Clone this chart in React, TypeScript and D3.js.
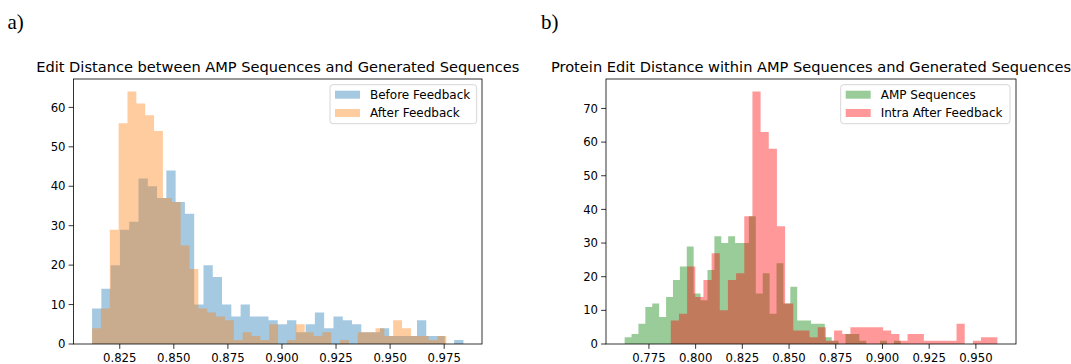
import React from "react";
import * as d3 from "d3";

// ---- data: histogram counts (40 bins each) ----
const beforeFeedback = [9, 14, 20, 29, 31, 42, 40, 37, 44, 36, 33, 10, 20, 17, 10, 7, 10, 7, 7, 6, 5, 6, 3, 5, 8, 4, 7, 6, 5, 3, 3, 4, 2, 2, 2, 6, 2, 2, 0, 1];
const afterFeedback = [4, 9, 29, 56, 64, 61, 58, 54, 37, 36, 25, 19, 9, 8, 7, 6, 1, 3, 2, 1, 5, 0, 1, 5, 3, 2, 3, 0, 1, 0, 3, 3, 4, 2, 6, 4, 2, 2, 1, 2];
const ampSequences = [2, 3, 6, 11, 12, 8, 14, 19, 23, 29, 15, 13, 22, 32, 30, 32, 30, 30, 38, 15, 21, 9, 24, 12, 17, 7, 7, 6, 6, 2, 1, 0, 3, 3, 1, 0, 0, 1, 0, 1];
const intraAfterFeedback = [7, 9, 23, 14, 19, 27, 10, 19, 21, 38, 75, 63, 58, 35, 12, 4, 4, 2, 5, 1, 4, 3, 5, 5, 5, 5, 4, 3, 1, 3, 3, 1, 1, 1, 1, 6, 0, 1, 2, 2];

// bin ranges [min, max] of each series
const beforeRange = [0.8122, 0.9839];
const afterRange = [0.8122, 0.976];
const ampRange = [0.762, 0.9098];
const intraRange = [0.7867, 0.9615];

const leftXTicks = [0.825, 0.85, 0.875, 0.9, 0.925, 0.95, 0.975];
const leftYTicks = [0, 10, 20, 30, 40, 50, 60];
const rightXTicks = [0.775, 0.8, 0.825, 0.85, 0.875, 0.9, 0.925, 0.95];
const rightYTicks = [0, 10, 20, 30, 40, 50, 60, 70];

const leftTitle = "Edit Distance between AMP Sequences and Generated Sequences";
const rightTitle = "Protein Edit Distance within AMP Sequences and Generated Sequences";

type Series = { name: string; counts: number[]; range: number[]; color: string };

const leftSeries: Series[] = [
  { name: "Before Feedback", counts: beforeFeedback, range: beforeRange, color: "#1f77b4" },
  { name: "After Feedback", counts: afterFeedback, range: afterRange, color: "#ff7f0e" },
];
const rightSeries: Series[] = [
  { name: "AMP Sequences", counts: ampSequences, range: ampRange, color: "#008000" },
  { name: "Intra After Feedback", counts: intraAfterFeedback, range: intraRange, color: "#ff0000" },
];

const FONT = "DejaVu Sans, sans-serif";

type PanelProps = {
  left: number;
  right: number;
  top: number;
  bottom: number;
  series: Series[];
  xTicks: number[];
  yTicks: number[];
  title: string;
  legend: { x: number; y: number; w: number; h: number };
};

function histPath(s: Series, x: d3.ScaleLinear<number, number>, y: d3.ScaleLinear<number, number>) {
  const n = s.counts.length;
  const w = (s.range[1] - s.range[0]) / n;
  const pts: [number, number][] = s.counts.map((c, i) => [s.range[0] + i * w, c]);
  pts.push([s.range[1], s.counts[n - 1]]);
  const area = d3
    .area<[number, number]>()
    .x((d) => x(d[0]))
    .y0(y(0))
    .y1((d) => y(d[1]))
    .curve(d3.curveStepAfter);
  return area(pts) || "";
}

function Panel({ left, right, top, bottom, series, xTicks, yTicks, title, legend }: PanelProps) {
  const lo = d3.min(series, (s) => s.range[0]) as number;
  const hi = d3.max(series, (s) => s.range[1]) as number;
  const pad = (hi - lo) * 0.05;
  const x = d3.scaleLinear().domain([lo - pad, hi + pad]).range([left, right]);
  const maxC = d3.max(series, (s) => d3.max(s.counts) as number) as number;
  const y = d3.scaleLinear().domain([0, maxC * 1.05]).range([bottom, top]);
  const fmt = d3.format(".3f");

  return (
    <g>
      <text x={(left + right) / 2} y={top - 7} textAnchor="middle" fontFamily={FONT} fontSize={14.6} fill="#000">
        {title}
      </text>
      {series.map((s) => (
        <path key={s.name} d={histPath(s, x, y)} fill={s.color} fillOpacity={0.4} />
      ))}
      {/* frame */}
      <rect x={left} y={top} width={right - left} height={bottom - top} fill="none" stroke="#000" strokeWidth={0.8} />
      {/* x axis ticks */}
      {xTicks.map((t) => (
        <g key={t} transform={`translate(${x(t)},${bottom})`}>
          <line y1={0} y2={4.9} stroke="#000" strokeWidth={0.8} />
          <text y={17.5} textAnchor="middle" fontFamily={FONT} fontSize={11.7} fill="#000">
            {fmt(t)}
          </text>
        </g>
      ))}
      {/* y axis ticks */}
      {yTicks.map((t) => (
        <g key={t} transform={`translate(${left},${y(t)})`}>
          <line x1={0} x2={-4.9} stroke="#000" strokeWidth={0.8} />
          <text x={-8} dy="0.35em" textAnchor="end" fontFamily={FONT} fontSize={11.7} fill="#000">
            {t}
          </text>
        </g>
      ))}
      {/* legend */}
      <rect
        x={legend.x}
        y={legend.y}
        width={legend.w}
        height={legend.h}
        rx={3}
        fill="#fff"
        fillOpacity={0.8}
        stroke="#cccccc"
        strokeWidth={0.8}
      />
      {series.map((s, i) => (
        <g key={s.name} transform={`translate(${legend.x + 5},${legend.y + 6 + i * 18.3})`}>
          <rect x={0} y={0} width={25} height={8} fill={s.color} fillOpacity={0.4} />
          <text x={35} y={8.3} fontFamily={FONT} fontSize={12} fill="#000">
            {s.name}
          </text>
        </g>
      ))}
    </g>
  );
}

export default function App() {
  return (
    <svg
      width={1071}
      height={364}
      viewBox="0 0 1071 364"
      style={{ position: "absolute", left: 0, top: 0, background: "#fff" }}
    >
      <rect width={1071} height={364} fill="#fff" />
      <text x={7.5} y={29} fontFamily="Liberation Serif, serif" fontSize={21} fill="#000">
        a)
      </text>
      <text x={541} y={29} fontFamily="Liberation Serif, serif" fontSize={21} fill="#000">
        b)
      </text>
      <Panel
        left={73.5}
        right={482}
        top={79}
        bottom={344}
        series={leftSeries}
        xTicks={leftXTicks}
        yTicks={leftYTicks}
        title={leftTitle}
        legend={{ x: 330, y: 84.7, w: 146.7, h: 39 }}
      />
      <Panel
        left={606}
        right={1016}
        top={79}
        bottom={344}
        series={rightSeries}
        xTicks={rightXTicks}
        yTicks={rightYTicks}
        title={rightTitle}
        legend={{ x: 840.7, y: 84.7, w: 169.3, h: 39 }}
      />
    </svg>
  );
}
